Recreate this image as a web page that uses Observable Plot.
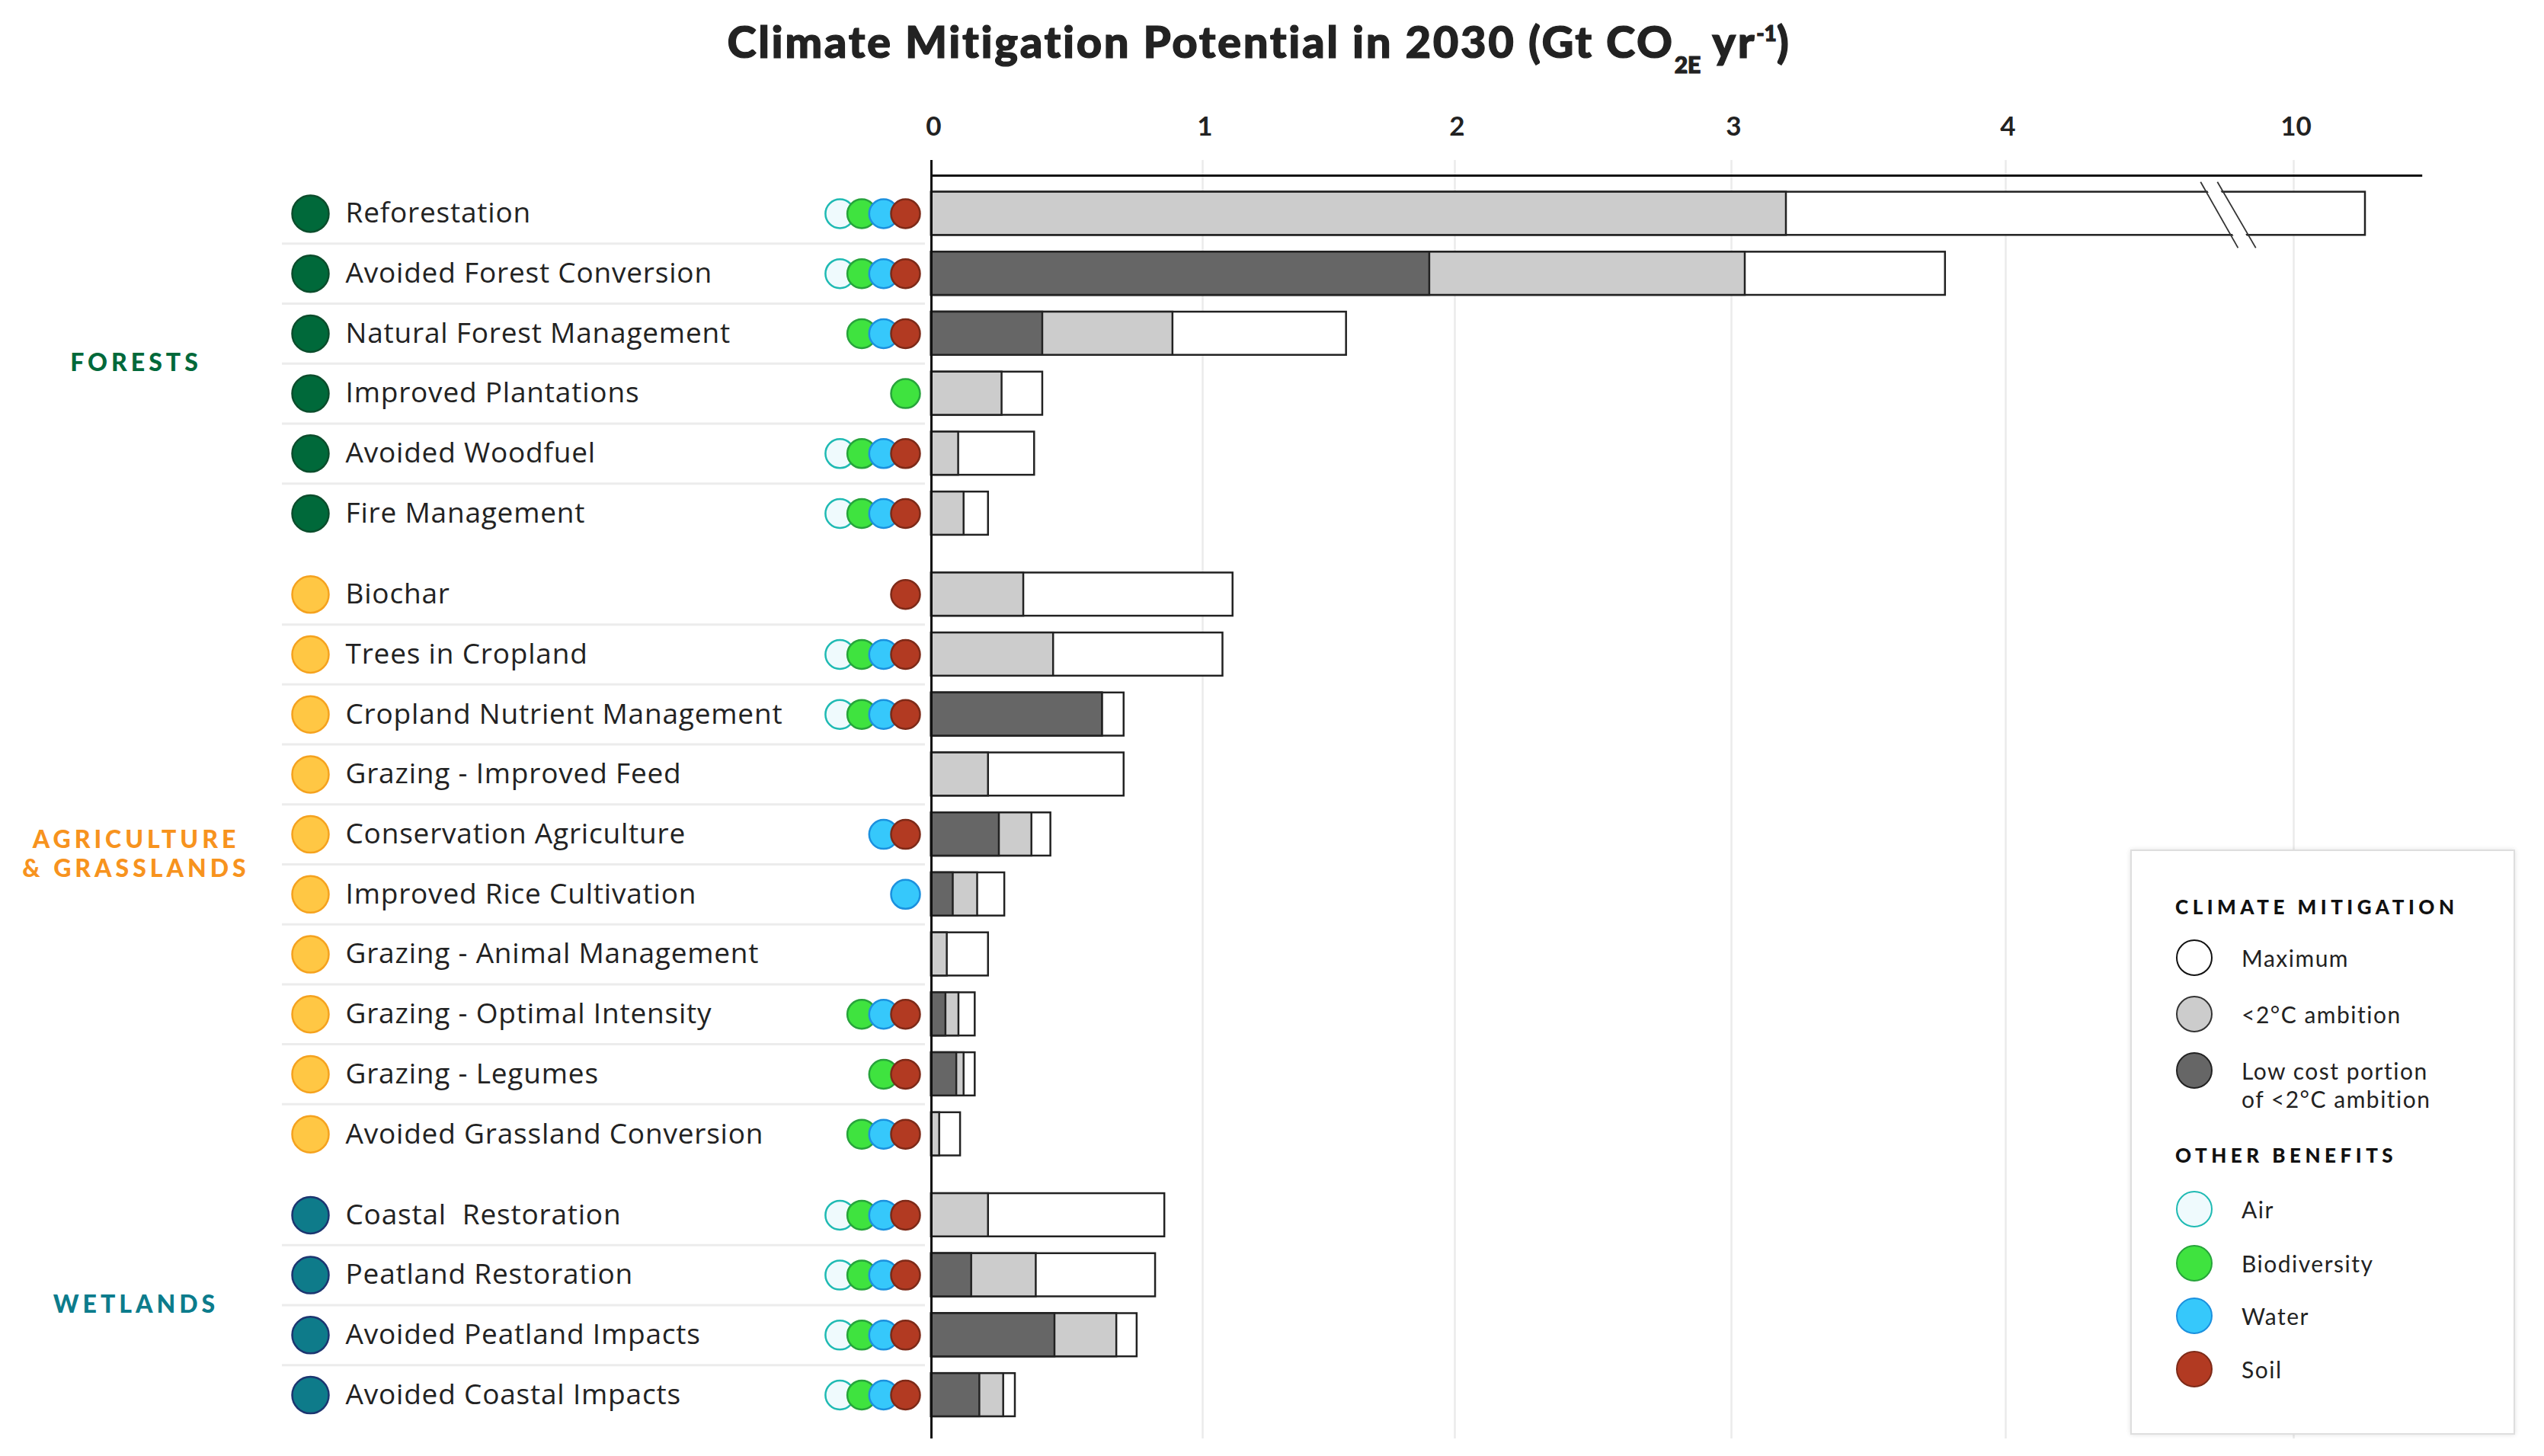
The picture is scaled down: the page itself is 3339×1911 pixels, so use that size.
<!DOCTYPE html>
<html>
<head>
<meta charset="utf-8">
<script src="https://cdn.jsdelivr.net/npm/d3@7"></script>
<script src="https://cdn.jsdelivr.net/npm/@observablehq/plot@0.6"></script>
<style>
  html, body { margin: 0; padding: 0; background: #fff; }
  #page { position: relative; width: 3339px; height: 1911px; overflow: hidden; font-family: Lato, "Open Sans", sans-serif; color: #222; }
  #header { position: relative; height: 120px; }
  #title { position: absolute; left: -17px; width: 3339px; top: 14px; text-align: center; font-weight: 900; font-size: 58px; line-height: 58px; letter-spacing: 2.6px; color: #222; white-space: nowrap; -webkit-text-stroke: 1.2px #222; }
  #title .sub { font-size: 30px; vertical-align: -20px; letter-spacing: 0; }
  #title .sup { font-size: 28px; vertical-align: 22px; letter-spacing: 0; }
  #chart svg text { white-space: pre; }
  g[aria-description="grouplabels"] text { letter-spacing: 5px; }
  g[aria-description="rowlabels"] text { letter-spacing: 0.8px; }
  #legend { position: absolute; left: 2796px; top: 1115px; width: 505px; height: 768px; box-sizing: border-box; border: 2px solid #dedede; box-shadow: 0 0 6px rgba(0,0,0,0.12); background: #fff; }
  #legend .lh { position: absolute; left: 57px; height: 30px; line-height: 30px; font-size: 26px; font-weight: 900; letter-spacing: 5.5px; color: #111; white-space: nowrap; }
  #legend .sw { position: absolute; left: 58px; width: 48px; height: 48px; box-sizing: border-box; border-radius: 50%; border: 2.5px solid #111; }
  #legend .lt { position: absolute; left: 144px; height: 40px; line-height: 40px; font-size: 30px; letter-spacing: 1.5px; color: #222; white-space: nowrap; }
</style>
</head>
<body>
<div id="page">
  <div id="header"><div id="title">Climate Mitigation Potential in 2030 (Gt CO<span class="sub">2E</span> yr<span class="sup">-1</span>)</div></div>
  <div id="chart"></div>
  <div id="legend"></div>
</div>
<script>
// ---------------- data ----------------
const names = [
  "Reforestation", "Avoided Forest Conversion", "Natural Forest Management", "Improved Plantations", "Avoided Woodfuel", "Fire Management",
  "Biochar", "Trees in Cropland", "Cropland Nutrient Management", "Grazing - Improved Feed", "Conservation Agriculture", "Improved Rice Cultivation",
  "Grazing - Animal Management", "Grazing - Optimal Intensity", "Grazing - Legumes", "Avoided Grassland Conversion",
  "Coastal  Restoration", "Peatland Restoration", "Avoided Peatland Impacts", "Avoided Coastal Impacts"
];
const sectors = [
  "Forests", "Forests", "Forests", "Forests", "Forests", "Forests",
  "Agriculture & Grasslands", "Agriculture & Grasslands", "Agriculture & Grasslands", "Agriculture & Grasslands", "Agriculture & Grasslands",
  "Agriculture & Grasslands", "Agriculture & Grasslands", "Agriculture & Grasslands", "Agriculture & Grasslands", "Agriculture & Grasslands",
  "Wetlands", "Wetlands", "Wetlands", "Wetlands"
];
// Gt CO2e per year
const lowCost    = [0,    1.90, 0.41, 0,    0,    0,    0,    0,    0.63, 0,    0.25, 0.08, 0,     0.053, 0.093, 0,     0,    0.148, 0.455, 0.178];
const ambition2C = [3.20, 3.05, 0.89, 0.26, 0.10, 0.12, 0.34, 0.45, 0.63, 0.21, 0.37, 0.17, 0.058, 0.101, 0.12,  0.03,  0.21, 0.386, 0.683, 0.266];
const maximum    = [10.1, 3.78, 1.57, 0.41, 0.38, 0.21, 1.12, 1.08, 0.71, 0.71, 0.44, 0.27, 0.21,  0.161, 0.161, 0.107, 0.86, 0.826, 0.758, 0.309];
const benefits = [
  ["Air", "Biodiversity", "Water", "Soil"],
  ["Air", "Biodiversity", "Water", "Soil"],
  ["Biodiversity", "Water", "Soil"],
  ["Biodiversity"],
  ["Air", "Biodiversity", "Water", "Soil"],
  ["Air", "Biodiversity", "Water", "Soil"],
  ["Soil"],
  ["Air", "Biodiversity", "Water", "Soil"],
  ["Air", "Biodiversity", "Water", "Soil"],
  [],
  ["Water", "Soil"],
  ["Water"],
  [],
  ["Biodiversity", "Water", "Soil"],
  ["Biodiversity", "Soil"],
  ["Biodiversity", "Water", "Soil"],
  ["Air", "Biodiversity", "Water", "Soil"],
  ["Air", "Biodiversity", "Water", "Soil"],
  ["Air", "Biodiversity", "Water", "Soil"],
  ["Air", "Biodiversity", "Water", "Soil"]
];
const sectorNames = ["Forests", "Agriculture & Grasslands", "Wetlands"];
const sectorLabels = ["FORESTS", "AGRICULTURE\n& GRASSLANDS", "WETLANDS"];
const xTicks = [0, 1, 2, 3, 4, 10];
const xBreaks = [0, 1, 2, 3, 4, 10, 11];          // piecewise (broken) axis
const axisEnd = 10.18;
const breakLines = [{x1: 8.06, x2: 8.84}, {x1: 8.41, x2: 9.21}];
const legendMitigation = ["Maximum", "<2°C ambition", "Low cost portion\nof <2°C ambition"];
const legendBenefits = ["Air", "Biodiversity", "Water", "Soil"];

// ---------------- styles ----------------
const sectorFill   = ["#00693a", "#ffc744", "#0e7b8a"];
const sectorStroke = ["#0b4d2c", "#f5a21e", "#1c3570"];
const sectorText   = ["#00693a", "#f7931e", "#0c7c8c"];
const benefitFill   = {Air: "#effafd", Biodiversity: "#3fe33f", Water: "#36c8fb", Soil: "#b23a22"};
const benefitStroke = {Air: "#1fbab3", Biodiversity: "#27a33b", Water: "#1b90de", Soil: "#7d2a18"};
const mitigationFill = ["#ffffff", "#cccccc", "#666666"];

// ---------------- layout helpers ----------------
const gap = 0.35;
const rows = names.map((name, i) => {
  const g = sectorNames.indexOf(sectors[i]);
  return {name, sector: sectors[i], g, pos: i + g * gap, low: lowCost[i], amb: ambition2C[i], max: maximum[i], benefits: benefits[i]};
});
const lastInGroup = new Set(sectorNames.map(s => d3.max(rows.filter(r => r.sector === s), r => r.pos)));
const separators = rows.filter(r => !lastInGroup.has(r.pos));
const dotsBySlot = [0, 1, 2, 3].map(k => rows.flatMap(r => r.benefits.map((type, j) => ({type, pos: r.pos, slot: r.benefits.length - 1 - j}))).filter(d => d.slot === k));
const groupLabels = sectorNames.map((s, g) => ({g, text: sectorLabels[g], pos: d3.mean(rows.filter(r => r.g === g), r => r.pos)}));
const refRow = rows[0];
const half = 0.36;

const W = 3339, H = 1791;
const yTop = -0.889, yBottom = 20.43;
const topLine = -0.635;
const labelFont = "'Open Sans', Lato, sans-serif";

const plot = Plot.plot({
  width: W,
  height: H,
  marginTop: 90,
  marginBottom: 23,
  marginLeft: 370,
  marginRight: 2125,
  style: {fontFamily: "Lato, 'Open Sans', sans-serif", background: "white", color: "#222"},
  x: {type: "linear", domain: xBreaks, range: [1222, 1578, 1909, 2272, 2632, 3010, 3950]},
  y: {type: "linear", domain: [yTop, yBottom], range: [90, 1768], axis: null},
  color: {type: "identity"},
  marks: [
    // grid
    Plot.ruleX(xTicks.filter(t => t > 0), {stroke: "#ebebeb", strokeWidth: 2.5}),
    // row separators
    Plot.ruleY(separators, {y: d => d.pos + 0.5, stroke: "#ececec", strokeWidth: 3}),
    // top axis line
    Plot.ruleY([topLine], {y: d => d, x1: () => 0, x2: () => axisEnd, stroke: "#111", strokeWidth: 3}),
    Plot.axisX({anchor: "top", ticks: xTicks, tickSize: 0, tickPadding: 33, dx: 3, fontSize: 35, fontWeight: 700, fill: "#222", label: null, tickFormat: d => String(d)}),
    // bars
    Plot.rect(rows, {x1: () => 0, x2: "max", y1: d => d.pos - half, y2: d => d.pos + half, fill: mitigationFill[0], stroke: "#222", strokeWidth: 2.5}),
    Plot.rect(rows.filter(d => d.amb > 0), {x1: () => 0, x2: "amb", y1: d => d.pos - half, y2: d => d.pos + half, fill: mitigationFill[1], stroke: "#222", strokeWidth: 2.5}),
    Plot.rect(rows.filter(d => d.low > 0), {x1: () => 0, x2: "low", y1: d => d.pos - half, y2: d => d.pos + half, fill: mitigationFill[2], stroke: "#222", strokeWidth: 2.5}),
    // axis break on the long bar
    Plot.link([{x1: (breakLines[0].x1 + breakLines[1].x1) / 2, x2: (breakLines[0].x2 + breakLines[1].x2) / 2}], {x1: "x1", x2: "x2", y1: () => refRow.pos - 0.53, y2: () => refRow.pos + 0.57, stroke: "white", strokeWidth: 15}),
    Plot.link(breakLines, {x1: "x1", x2: "x2", y1: () => refRow.pos - 0.53, y2: () => refRow.pos + 0.57, stroke: "#333", strokeWidth: 1.8}),
    // zero axis
    Plot.ruleX([0], {stroke: "#111", strokeWidth: 3}),
    // benefit dots (right-aligned, rightmost on top)
    ...[3, 2, 1, 0].map(k => Plot.dot(dotsBySlot[k], {x: () => 0, y: "pos", dx: -34 - 28.7 * k, r: 19, fill: d => benefitFill[d.type], stroke: d => benefitStroke[d.type], strokeWidth: 2.5})),
    // sector dots and labels
    Plot.dot(rows, {x: () => 0, y: "pos", dx: -815, r: 24, fill: d => sectorFill[d.g], stroke: d => sectorStroke[d.g], strokeWidth: 2.5}),
    Plot.text(rows, {x: () => 0, y: "pos", text: "name", dx: -769, textAnchor: "start", fontSize: 37, fontFamily: labelFont, fill: "#222", ariaDescription: "rowlabels"}),
    Plot.text(groupLabels.filter(d => d.g !== 1), {x: () => 0, y: "pos", text: "text", dx: -1044, fontSize: 32, fontWeight: 900, fill: d => sectorText[d.g], ariaDescription: "grouplabels"}),
    Plot.text(groupLabels.filter(d => d.g === 1), {x: () => 0, y: "pos", text: "text", dx: -1044, dy: -15, lineHeight: 1.19, fontSize: 32, fontWeight: 900, fill: d => sectorText[d.g], ariaDescription: "grouplabels"})
  ]
});
document.getElementById("chart").appendChild(plot);

// ---------------- legend ----------------
const legend = document.getElementById("legend");
function add(cls, top, html, styles) {
  const el = document.createElement("div");
  el.className = cls;
  el.style.top = top + "px";
  if (html != null) el.textContent = html;
  Object.assign(el.style, styles || {});
  legend.appendChild(el);
  return el;
}
add("lh", 73 - 15, "CLIMATE MITIGATION");
const mitY = [140, 214, 288];
const mitStroke = ["#111", "#333", "#222"];
legendMitigation.forEach((t, i) => {
  add("sw", mitY[i] - 24, null, {background: mitigationFill[i], borderColor: mitStroke[i]});
  const lines = t.split("\n");
  const el = add("lt", mitY[i] - 18.5, null, {lineHeight: "37px", height: (37 * lines.length) + "px"});
  el.innerHTML = lines.map(l => l.replace(/</g, "&lt;")).join("<br>");
});
add("lh", 399 - 15, "OTHER BENEFITS");
const benY = [470, 541, 610, 680];
legendBenefits.forEach((t, i) => {
  add("sw", benY[i] - 24, null, {background: benefitFill[t], borderColor: benefitStroke[t]});
  add("lt", benY[i] - 20, t);
});
</script>
</body>
</html>
